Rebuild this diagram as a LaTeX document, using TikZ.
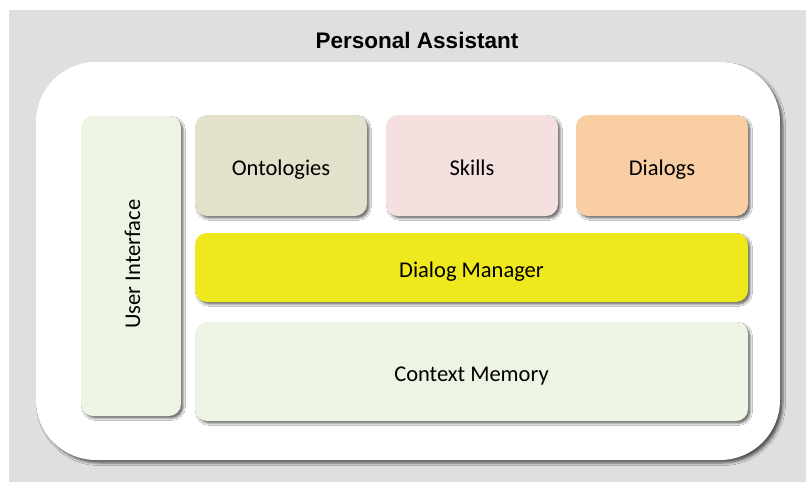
\documentclass[tikz,border=0pt]{standalone}
\usepackage{fontspec}
\setmainfont{Carlito}
\newfontfamily\titlefont{Liberation Sans}
\usetikzlibrary{shadows.blur}
\definecolor{bggray}{HTML}{E0DFDE}
\definecolor{uigreen}{HTML}{EEF4E3}
\definecolor{ontol}{HTML}{E3E0CC}
\definecolor{skillc}{HTML}{F5E0E0}
\definecolor{dialc}{HTML}{F8CEA2}
\definecolor{dmyel}{HTML}{EEE81C}
\tikzset{
  blk/.style={rounded corners=12pt, inner sep=0pt, font=\fontsize{22.5}{26}\selectfont,
    text height=20pt, text depth=0pt,
    blur shadow={shadow xshift=2.5pt, shadow yshift=-2.5pt, shadow blur radius=2pt, shadow opacity=55}},
}
\begin{document}
\begin{tikzpicture}[x=1pt,y=-1pt]
\useasboundingbox (0,0) rectangle (806,482);
\fill[bggray] (9,10) rectangle (806,482);
\node[fill=white, rounded corners=60pt, minimum width=744pt, minimum height=398pt, inner sep=0pt,
  blur shadow={shadow xshift=3pt, shadow yshift=-3pt, shadow blur radius=2.5pt, shadow opacity=60}]
  (frame) at (408,261) {};
\node[font=\titlefont\bfseries\fontsize{22.5}{26}\selectfont] (title) at (417,40) {Personal Assistant};
\node[blk, fill=uigreen, minimum width=100pt, minimum height=300pt] (ui) at (131,266) {};
\node[font=\fontsize{22.5}{26}\selectfont, text height=20pt, text depth=0pt, inner sep=0pt, rotate=90] (uilabel) at (130,264) {User Interface};
\node[blk, fill=ontol, minimum width=172pt, minimum height=101pt] (onto) at (281,165.5) {Ontologies};
\node[blk, fill=skillc, minimum width=172pt, minimum height=101pt] (skills) at (472,165.5) {Skills};
\node[blk, fill=dialc, minimum width=172pt, minimum height=101pt] (dialogs) at (662,165.5) {Dialogs};
\node[blk, fill=dmyel, minimum width=553pt, minimum height=69pt] (dm) at (471.5,267.5) {Dialog Manager};
\node[blk, fill=uigreen, minimum width=553pt, minimum height=99pt] (cm) at (471.5,371.5) {Context Memory};
\end{tikzpicture}
\end{document}
